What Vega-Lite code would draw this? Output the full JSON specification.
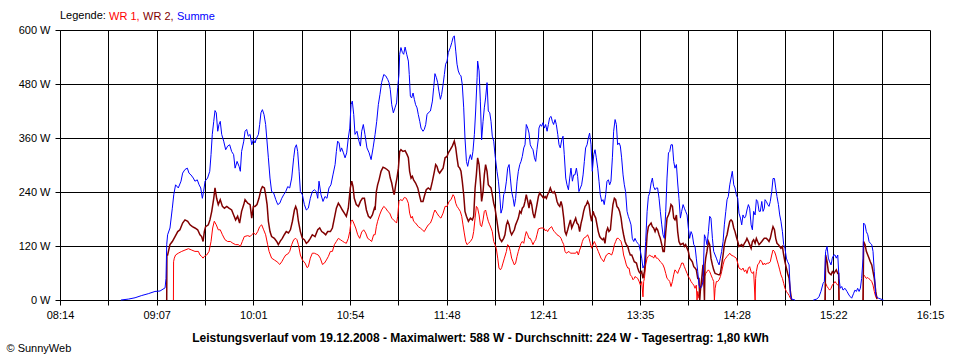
{
"$schema": "https://vega.github.io/schema/vega-lite/v6.json",
"width": 870, "height": 270,
"autosize": {"type": "none"},
"padding": {"left": 60, "top": 30, "right": 30, "bottom": 60},
"background": "white",
"config": {
 "font": "Liberation Sans",
 "view": {"stroke": null},
 "axis": {"gridColor": "#000", "gridOpacity": 1, "gridWidth": 1, "domainColor": "#000", "tickColor": "#000", "labelColor": "#000", "labelFontSize": 11, "tickSize": 5, "zindex": 1, "titleColor": "#000"}
},
"datasets": {
"wr1": [
{"t":556.7,"w":0},{"t":556.8,"w":85},{"t":557.2,"w":93},{"t":557.9,"w":100},{"t":559.4,"w":104},{"t":561.3,"w":108},{"t":563.1,"w":111},{"t":565.0,"w":114},{"t":566.8,"w":111},{"t":568.6,"w":108},{"t":570.5,"w":108},{"t":571.4,"w":100},{"t":572.3,"w":97},{"t":573.1,"w":93},{"t":573.8,"w":97},{"t":575.1,"w":100},{"t":576.4,"w":108},{"t":577.5,"w":130},{"t":578.4,"w":160},{"t":579.3,"w":175},{"t":580.4,"w":167},{"t":581.5,"w":156},{"t":582.6,"w":156},{"t":583.8,"w":145},{"t":585.2,"w":134},{"t":586.7,"w":130},{"t":588.2,"w":130},{"t":589.6,"w":126},{"t":591.1,"w":123},{"t":592.6,"w":123},{"t":593.7,"w":119},{"t":594.8,"w":130},{"t":595.9,"w":141},
{"t":597.8,"w":143},{"t":599.1,"w":141},{"t":600.0,"w":145},{"t":601.1,"w":149},{"t":602.2,"w":145},{"t":603.3,"w":152},{"t":604.4,"w":163},{"t":605.5,"w":167},{"t":606.6,"w":156},{"t":607.7,"w":145},{"t":608.8,"w":123},{"t":609.6,"w":108},{"t":611.0,"w":93},{"t":612.5,"w":89},{"t":614.0,"w":85},{"t":615.5,"w":79},{"t":616.6,"w":85},{"t":617.7,"w":93},{"t":618.8,"w":100},{"t":619.9,"w":102},{"t":621.0,"w":108},{"t":622.1,"w":123},{"t":623.2,"w":134},{"t":624.3,"w":137},{"t":625.0,"w":134},{"t":625.8,"w":123},{"t":626.9,"w":100},{"t":628.0,"w":89},{"t":629.5,"w":82},{"t":630.6,"w":72},{"t":631.3,"w":74},{"t":632.4,"w":93},{"t":633.5,"w":104},{"t":634.6,"w":104},{"t":635.7,"w":102},{"t":636.8,"w":100},{"t":637.9,"w":93},{"t":639.1,"w":79},{"t":640.2,"w":82},{"t":641.3,"w":89},{"t":642.4,"w":97},{"t":643.5,"w":108},{"t":644.6,"w":108},{"t":645.7,"w":123},{"t":646.8,"w":130},{"t":647.9,"w":137},{"t":649.0,"w":134},{"t":650.1,"w":131},{"t":651.2,"w":128},{"t":652.3,"w":126},{"t":653.4,"w":137},{"t":654.2,"w":152},{"t":654.9,"w":175},{"t":655.6,"w":178},{"t":656.4,"w":171},{"t":657.5,"w":160},{"t":658.6,"w":145},{"t":659.7,"w":137},{"t":660.8,"w":151},{"t":661.9,"w":156},{"t":663.0,"w":149},{"t":664.1,"w":137},{"t":665.2,"w":134},{"t":666.3,"w":130},{"t":667.4,"w":145},
{"t":668.2,"w":145},{"t":668.9,"w":163},{"t":669.6,"w":175},{"t":670.7,"w":189},{"t":671.8,"w":200},{"t":673.0,"w":208},{"t":674.1,"w":204},{"t":675.2,"w":197},{"t":676.3,"w":193},{"t":677.4,"w":182},{"t":678.3,"w":178},{"t":679.2,"w":175},{"t":680.1,"w":171},{"t":680.7,"w":186},{"t":681.4,"w":219},{"t":682.2,"w":223},{"t":683.3,"w":221},{"t":684.4,"w":228},{"t":685.5,"w":226},{"t":686.6,"w":215},{"t":687.3,"w":193},{"t":688.1,"w":182},{"t":688.8,"w":186},{"t":689.5,"w":175},{"t":690.6,"w":171},{"t":692.1,"w":163},{"t":693.2,"w":160},{"t":694.3,"w":156},{"t":695.4,"w":152},{"t":696.5,"w":160},{"t":697.6,"w":167},{"t":698.8,"w":171},{"t":699.9,"w":182},{"t":700.6,"w":193},{"t":701.3,"w":200},{"t":702.4,"w":193},{"t":703.5,"w":186},{"t":704.6,"w":182},{"t":705.8,"w":193},{"t":706.9,"w":208},{"t":708.0,"w":208},{"t":709.1,"w":219},{"t":710.2,"w":223},{"t":711.3,"w":234},{"t":712.0,"w":230},{"t":712.8,"w":215},{"t":713.5,"w":208},{"t":714.2,"w":204},{"t":715.3,"w":197},{"t":716.1,"w":186},{"t":716.8,"w":167},{"t":717.5,"w":149},{"t":718.3,"w":130},{"t":719.0,"w":123},{"t":719.8,"w":126},{"t":720.9,"w":130},{"t":722.0,"w":137},{"t":722.7,"w":152},{"t":723.5,"w":182},{"t":724.2,"w":208},{"t":724.9,"w":204},{"t":725.7,"w":189},{"t":726.4,"w":167},{"t":727.1,"w":163},{"t":727.9,"w":178},{"t":728.6,"w":197},{"t":729.3,"w":200},{"t":730.1,"w":186},{"t":730.8,"w":175},{"t":731.6,"w":167},{"t":732.3,"w":160},{"t":733.0,"w":152},{"t":733.8,"w":130},{"t":734.5,"w":123},{"t":735.2,"w":115},{"t":736.0,"w":93},{"t":736.7,"w":71},{"t":737.5,"w":67},{"t":738.2,"w":72},{"t":738.9,"w":82},{"t":739.7,"w":93},
{"t":740.8,"w":108},{"t":741.5,"w":123},{"t":742.3,"w":119},{"t":743.0,"w":108},{"t":743.7,"w":93},{"t":744.5,"w":85},{"t":745.2,"w":78},{"t":745.9,"w":82},{"t":746.7,"w":97},{"t":747.4,"w":108},{"t":748.2,"w":119},{"t":748.9,"w":126},{"t":749.6,"w":130},{"t":750.4,"w":126},{"t":751.1,"w":141},{"t":751.8,"w":152},{"t":752.6,"w":145},{"t":753.3,"w":137},{"t":754.0,"w":137},{"t":754.8,"w":130},{"t":755.5,"w":123},{"t":756.3,"w":130},{"t":757.0,"w":134},{"t":757.7,"w":145},{"t":758.5,"w":158},{"t":759.9,"w":160},{"t":761.4,"w":160},{"t":762.2,"w":154},{"t":762.9,"w":156},{"t":763.6,"w":152},{"t":764.4,"w":158},{"t":765.8,"w":163},{"t":766.6,"w":156},{"t":767.3,"w":152},{"t":768.0,"w":149},{"t":768.8,"w":145},{"t":770.3,"w":141},{"t":771.0,"w":137},{"t":771.7,"w":130},{"t":772.5,"w":123},{"t":773.2,"w":108},{"t":773.9,"w":104},{"t":775.4,"w":108},{"t":776.2,"w":104},{"t":777.6,"w":104},{"t":779.1,"w":104},{"t":779.8,"w":108},{"t":780.6,"w":100},{"t":781.3,"w":111},{"t":782.1,"w":119},{"t":782.8,"w":130},{"t":783.5,"w":137},{"t":785.0,"w":141},{"t":785.7,"w":145},{"t":786.5,"w":137},{"t":787.2,"w":126},{"t":787.9,"w":115},{"t":788.7,"w":123},{"t":789.4,"w":130},{"t":790.2,"w":123},{"t":790.9,"w":115},{"t":791.6,"w":108},{"t":792.4,"w":100},{"t":793.1,"w":93},{"t":793.9,"w":89},{"t":794.6,"w":85},{"t":795.3,"w":93},{"t":796.1,"w":100},{"t":797.5,"w":104},{"t":799.0,"w":100},{"t":799.7,"w":108},{"t":800.5,"w":123},{"t":801.2,"w":130},{"t":801.9,"w":137},{"t":802.7,"w":137},{"t":803.4,"w":134},{"t":804.2,"w":130},{"t":804.9,"w":119},{"t":805.6,"w":100},{"t":806.4,"w":89},{"t":807.1,"w":78},{"t":807.9,"w":71},{"t":808.6,"w":71},{"t":809.3,"w":56},{"t":810.1,"w":52},{"t":810.8,"w":45},{"t":811.5,"w":48},
{"t":811.9,"w":52},{"t":812.7,"w":50},{"t":813.4,"w":48},{"t":814.1,"w":42},{"t":814.9,"w":33},{"t":815.6,"w":41},{"t":816.3,"w":7},{"t":816.7,"w":41},{"t":817.1,"w":48},{"t":817.8,"w":78},{"t":818.6,"w":93},{"t":819.3,"w":97},{"t":820.0,"w":100},{"t":820.8,"w":97},{"t":821.5,"w":97},{"t":822.2,"w":93},{"t":823.0,"w":100},{"t":823.7,"w":93},{"t":824.4,"w":93},{"t":825.2,"w":89},{"t":825.9,"w":85},{"t":826.7,"w":82},{"t":827.4,"w":78},{"t":828.1,"w":71},{"t":828.9,"w":59},{"t":829.6,"w":48},{"t":830.4,"w":45},{"t":831.1,"w":41},{"t":831.8,"w":30},{"t":832.6,"w":41},{"t":833.3,"w":56},{"t":834.0,"w":67},{"t":834.8,"w":63},{"t":835.5,"w":59},{"t":836.2,"w":67},{"t":837.0,"w":74},{"t":837.7,"w":82},{"t":838.5,"w":82},{"t":839.2,"w":74},{"t":839.9,"w":67},{"t":840.7,"w":59},{"t":841.4,"w":52},{"t":842.1,"w":48},{"t":842.9,"w":41},{"t":843.6,"w":37},{"t":844.4,"w":33},{"t":845.1,"w":26},{"t":845.8,"w":33},{"t":846.2,"w":0},{"t":846.6,"w":19},{"t":847.3,"w":4},{"t":848.0,"w":26},{"t":848.8,"w":33},{"t":849.5,"w":48},{"t":850.3,"w":52},{"t":851.0,"w":59},{"t":851.7,"w":63},{"t":852.5,"w":67},{"t":853.2,"w":63},{"t":853.9,"w":56},{"t":854.7,"w":48},{"t":855.4,"w":41},{"t":855.8,"w":0},{"t":856.2,"w":26},{"t":856.9,"w":41},{"t":857.6,"w":41},{"t":858.4,"w":45},{"t":859.1,"w":52},{"t":859.8,"w":63},{"t":860.6,"w":78},{"t":861.3,"w":89},{"t":862.1,"w":93},{"t":862.8,"w":97},{"t":863.5,"w":100},{"t":864.3,"w":104},{"t":865.0,"w":100},{"t":866.5,"w":97},{"t":867.9,"w":93},{"t":868.7,"w":82},{"t":869.4,"w":71},{"t":870.9,"w":67},{"t":871.6,"w":71},{"t":872.4,"w":63},{"t":873.1,"w":67},{"t":873.8,"w":59},{"t":874.6,"w":71},{"t":875.3,"w":74},{"t":876.1,"w":63},{"t":876.8,"w":59},{"t":877.5,"w":63},{"t":878.3,"w":0},{"t":878.6,"w":48},{"t":879.0,"w":63},{"t":879.7,"w":78},{"t":880.5,"w":82},{"t":881.2,"w":89},{"t":882.0,"w":85},{"t":882.7,"w":78},{"t":883.4,"w":82},
{"t":883.8,"w":79},{"t":885.3,"w":82},{"t":886.0,"w":82},{"t":886.7,"w":85},{"t":887.5,"w":100},{"t":888.2,"w":111},{"t":889.0,"w":108},{"t":889.7,"w":100},{"t":890.4,"w":89},{"t":891.2,"w":78},{"t":891.9,"w":67},{"t":892.6,"w":56},{"t":893.4,"w":48},{"t":894.1,"w":37},{"t":894.8,"w":26},{"t":895.6,"w":19},{"t":896.3,"w":15},{"t":897.1,"w":10},{"t":897.8,"w":4},{"t":898.5,"w":0},{"t":907.0,"w":null},{"t":917.0,"w":0},{"t":917.3,"w":37},{"t":918.1,"w":30},{"t":918.8,"w":26},{"t":919.5,"w":22},{"t":920.3,"w":26},{"t":921.0,"w":33},{"t":921.8,"w":37},{"t":922.5,"w":41},{"t":923.2,"w":37},{"t":924.0,"w":33},{"t":924.5,"w":33},{"t":924.7,"w":0},{"t":931.0,"w":null},{"t":938.0,"w":0},{"t":938.3,"w":56},{"t":939.1,"w":52},{"t":939.8,"w":48},{"t":940.6,"w":50},{"t":941.3,"w":47},{"t":942.0,"w":45},{"t":942.8,"w":41},{"t":943.5,"w":33},{"t":944.2,"w":19},{"t":945.0,"w":7},{"t":945.7,"w":2}
],
"wr2": [
{"t":553.0,"w":0},{"t":553.1,"w":100},{"t":553.5,"w":100},{"t":554.8,"w":123},{"t":556.1,"w":130},{"t":557.6,"w":141},{"t":559.1,"w":152},{"t":560.3,"w":156},{"t":561.8,"w":171},{"t":563.1,"w":178},{"t":564.6,"w":175},{"t":565.9,"w":167},{"t":567.2,"w":163},{"t":568.6,"w":160},{"t":570.1,"w":156},{"t":571.4,"w":145},{"t":572.3,"w":141},{"t":573.1,"w":130},{"t":573.8,"w":152},{"t":574.5,"w":163},{"t":576.0,"w":167},{"t":576.9,"w":178},{"t":577.9,"w":197},{"t":579.0,"w":226},{"t":579.7,"w":249},{"t":580.6,"w":226},{"t":581.5,"w":212},{"t":582.6,"w":223},{"t":583.8,"w":208},{"t":584.9,"w":204},{"t":586.2,"w":208},{"t":587.4,"w":204},{"t":588.9,"w":200},{"t":590.0,"w":189},{"t":591.1,"w":178},{"t":592.2,"w":186},{"t":593.3,"w":171},{"t":594.4,"w":197},{"t":595.6,"w":212},
{"t":596.3,"w":223},{"t":597.8,"w":215},{"t":599.1,"w":212},{"t":600.0,"w":182},{"t":600.9,"w":208},{"t":601.8,"w":208},{"t":602.9,"w":212},{"t":604.0,"w":226},{"t":605.1,"w":245},{"t":605.9,"w":252},{"t":607.0,"w":249},{"t":607.7,"w":234},{"t":608.5,"w":212},{"t":609.2,"w":175},{"t":610.1,"w":152},{"t":611.0,"w":141},{"t":612.5,"w":137},{"t":613.8,"w":130},{"t":614.7,"w":123},{"t":615.8,"w":131},{"t":616.9,"w":137},{"t":618.0,"w":145},{"t":619.1,"w":152},{"t":620.3,"w":149},{"t":621.4,"w":156},{"t":622.5,"w":175},{"t":623.6,"w":200},{"t":624.3,"w":208},{"t":625.0,"w":200},{"t":625.8,"w":175},{"t":626.9,"w":152},{"t":628.0,"w":137},{"t":629.1,"w":134},{"t":630.2,"w":126},{"t":631.3,"w":130},{"t":632.4,"w":137},{"t":633.5,"w":145},{"t":635.0,"w":141},{"t":636.5,"w":156},{"t":637.6,"w":160},{"t":638.7,"w":152},{"t":639.8,"w":149},{"t":640.9,"w":145},{"t":642.0,"w":152},{"t":643.5,"w":152},{"t":644.6,"w":160},{"t":645.7,"w":182},{"t":646.8,"w":204},{"t":647.9,"w":215},{"t":649.0,"w":208},{"t":650.1,"w":200},{"t":651.2,"w":193},{"t":652.3,"w":186},{"t":653.4,"w":204},{"t":654.5,"w":249},{"t":655.3,"w":264},{"t":656.0,"w":252},{"t":656.7,"w":226},{"t":657.8,"w":212},{"t":659.0,"w":208},{"t":660.1,"w":219},{"t":661.2,"w":226},{"t":662.3,"w":226},{"t":663.4,"w":200},{"t":664.5,"w":186},{"t":665.6,"w":182},{"t":666.7,"w":189},{"t":667.8,"w":204},
{"t":668.2,"w":200},{"t":668.9,"w":241},{"t":669.6,"w":256},{"t":670.4,"w":267},{"t":671.5,"w":286},{"t":672.6,"w":295},{"t":673.7,"w":293},{"t":674.8,"w":290},{"t":675.9,"w":286},{"t":676.6,"w":271},{"t":677.4,"w":260},{"t":678.3,"w":241},{"t":678.8,"w":234},{"t":679.6,"w":256},{"t":680.3,"w":271},{"t":681.1,"w":293},{"t":681.8,"w":330},{"t":682.5,"w":334},{"t":683.6,"w":330},{"t":684.8,"w":332},{"t":685.9,"w":323},{"t":686.6,"w":316},{"t":687.3,"w":286},{"t":688.1,"w":271},{"t":688.8,"w":275},{"t":689.5,"w":267},{"t":690.6,"w":260},{"t":691.8,"w":249},{"t":692.9,"w":230},{"t":693.6,"w":219},{"t":694.7,"w":219},{"t":695.4,"w":230},{"t":696.5,"w":245},{"t":697.6,"w":249},{"t":698.8,"w":245},{"t":699.9,"w":264},{"t":701.0,"w":286},{"t":701.7,"w":301},{"t":702.4,"w":297},{"t":703.2,"w":286},{"t":703.9,"w":282},{"t":704.6,"w":286},{"t":705.8,"w":293},{"t":706.9,"w":316},{"t":708.0,"w":319},{"t":708.7,"w":327},{"t":709.8,"w":334},{"t":710.9,"w":342},{"t":712.0,"w":353},{"t":712.8,"w":338},{"t":713.5,"w":316},{"t":714.2,"w":297},{"t":715.0,"w":293},{"t":715.7,"w":286},{"t":716.4,"w":264},{"t":717.2,"w":234},{"t":717.9,"w":197},{"t":718.7,"w":186},{"t":719.8,"w":175},{"t":720.9,"w":182},{"t":722.0,"w":178},{"t":722.7,"w":186},{"t":723.5,"w":249},{"t":724.2,"w":278},{"t":724.9,"w":316},{"t":725.7,"w":301},{"t":726.4,"w":264},{"t":727.1,"w":219},{"t":727.9,"w":241},{"t":728.6,"w":278},{"t":729.3,"w":301},{"t":730.1,"w":286},{"t":730.8,"w":256},{"t":731.6,"w":252},{"t":732.3,"w":249},{"t":733.0,"w":234},{"t":733.8,"w":215},{"t":734.5,"w":204},{"t":735.6,"w":175},{"t":736.4,"w":152},{"t":737.1,"w":137},{"t":738.2,"w":130},{"t":739.3,"w":137},
{"t":740.0,"w":145},{"t":740.8,"w":167},{"t":741.5,"w":175},{"t":742.3,"w":167},{"t":743.0,"w":152},{"t":743.7,"w":145},{"t":745.2,"w":156},{"t":745.9,"w":167},{"t":746.7,"w":175},{"t":747.4,"w":182},{"t":748.2,"w":197},{"t":748.9,"w":193},{"t":749.6,"w":204},{"t":750.4,"w":208},{"t":751.1,"w":219},{"t":751.8,"w":234},{"t":752.6,"w":219},{"t":753.3,"w":204},{"t":754.0,"w":223},{"t":754.8,"w":212},{"t":755.5,"w":193},{"t":756.3,"w":182},{"t":757.0,"w":197},{"t":757.7,"w":212},{"t":758.5,"w":230},{"t":759.2,"w":238},{"t":759.9,"w":234},{"t":760.7,"w":230},{"t":761.4,"w":226},{"t":762.2,"w":230},{"t":762.9,"w":226},{"t":763.6,"w":234},{"t":764.4,"w":241},{"t":765.1,"w":249},{"t":765.8,"w":241},{"t":766.6,"w":238},{"t":767.3,"w":241},{"t":768.0,"w":234},{"t":768.8,"w":219},{"t":769.5,"w":212},{"t":770.3,"w":208},{"t":771.0,"w":219},{"t":771.7,"w":208},{"t":772.5,"w":182},{"t":773.2,"w":152},{"t":773.9,"w":145},{"t":774.7,"w":156},{"t":775.4,"w":167},{"t":776.2,"w":178},{"t":776.9,"w":160},{"t":777.6,"w":167},{"t":778.4,"w":175},{"t":779.1,"w":182},{"t":779.8,"w":171},{"t":780.6,"w":167},{"t":781.3,"w":152},{"t":782.1,"w":171},{"t":782.8,"w":182},{"t":783.5,"w":197},{"t":784.3,"w":208},{"t":785.0,"w":212},{"t":785.7,"w":219},{"t":786.5,"w":212},{"t":787.2,"w":189},{"t":787.9,"w":175},{"t":788.7,"w":197},{"t":789.4,"w":189},{"t":790.2,"w":182},{"t":790.9,"w":167},{"t":791.6,"w":152},{"t":792.4,"w":141},{"t":793.1,"w":137},{"t":793.9,"w":134},{"t":794.6,"w":137},{"t":795.3,"w":126},{"t":796.1,"w":152},{"t":796.8,"w":160},{"t":797.5,"w":152},{"t":798.3,"w":156},{"t":799.0,"w":186},{"t":799.7,"w":212},{"t":800.5,"w":226},{"t":801.2,"w":223},{"t":801.9,"w":208},{"t":802.7,"w":204},{"t":803.4,"w":197},{"t":804.2,"w":182},{"t":804.9,"w":160},{"t":805.6,"w":145},{"t":806.4,"w":130},{"t":807.1,"w":123},{"t":807.9,"w":119},{"t":808.6,"w":108},{"t":809.3,"w":100},{"t":810.1,"w":100},{"t":810.8,"w":93},{"t":811.5,"w":85},
{"t":812.7,"w":82},{"t":813.4,"w":71},{"t":814.1,"w":63},{"t":814.9,"w":59},{"t":815.6,"w":63},{"t":816.3,"w":48},{"t":817.1,"w":63},{"t":817.8,"w":93},{"t":818.6,"w":145},{"t":819.3,"w":163},{"t":820.0,"w":167},{"t":820.8,"w":171},{"t":821.5,"w":163},{"t":822.2,"w":160},{"t":823.0,"w":152},{"t":823.7,"w":160},{"t":824.4,"w":156},{"t":825.2,"w":145},{"t":825.9,"w":137},{"t":826.7,"w":123},{"t":827.4,"w":108},{"t":828.1,"w":108},{"t":828.9,"w":152},{"t":829.6,"w":182},{"t":830.4,"w":189},{"t":831.1,"w":197},{"t":831.8,"w":212},{"t":832.6,"w":208},{"t":833.3,"w":182},{"t":834.0,"w":178},{"t":834.8,"w":189},{"t":835.5,"w":152},{"t":836.2,"w":130},{"t":837.0,"w":123},{"t":838.5,"w":126},{"t":839.2,"w":119},{"t":839.9,"w":123},{"t":840.7,"w":115},{"t":841.4,"w":108},{"t":842.1,"w":93},{"t":842.9,"w":89},{"t":843.6,"w":85},{"t":844.4,"w":74},{"t":845.1,"w":71},{"t":845.8,"w":67},{"t":846.6,"w":48},{"t":847.3,"w":48},{"t":847.7,"w":0},{"t":848.0,"w":19},{"t":848.8,"w":48},{"t":849.5,"w":78},{"t":849.9,"w":48},{"t":850.3,"w":0},{"t":850.6,"w":78},{"t":851.0,"w":93},{"t":851.7,"w":108},{"t":852.5,"w":130},{"t":853.2,"w":123},{"t":853.9,"w":93},{"t":854.7,"w":78},{"t":855.4,"w":67},{"t":856.2,"w":59},{"t":857.6,"w":57},{"t":858.4,"w":56},{"t":859.1,"w":59},{"t":859.8,"w":78},{"t":860.6,"w":100},{"t":861.3,"w":123},{"t":862.1,"w":137},{"t":862.8,"w":145},{"t":863.5,"w":160},{"t":864.3,"w":175},{"t":865.0,"w":178},{"t":865.7,"w":175},{"t":866.5,"w":160},{"t":867.2,"w":152},{"t":867.9,"w":141},{"t":868.7,"w":130},{"t":869.4,"w":119},{"t":870.9,"w":123},{"t":871.6,"w":119},{"t":872.4,"w":126},{"t":873.1,"w":130},{"t":873.8,"w":137},{"t":874.6,"w":130},{"t":875.3,"w":123},{"t":876.1,"w":115},{"t":876.8,"w":130},{"t":877.5,"w":134},{"t":878.3,"w":126},{"t":879.0,"w":137},{"t":879.7,"w":130},{"t":880.5,"w":123},{"t":881.2,"w":126},{"t":882.0,"w":130},{"t":882.7,"w":134},{"t":883.4,"w":137},
{"t":884.5,"w":137},{"t":885.3,"w":134},{"t":886.0,"w":130},{"t":886.7,"w":137},{"t":887.5,"w":152},{"t":888.2,"w":163},{"t":889.0,"w":156},{"t":889.7,"w":137},{"t":890.4,"w":126},{"t":891.2,"w":123},{"t":891.9,"w":119},{"t":892.6,"w":115},{"t":893.4,"w":119},{"t":894.1,"w":100},{"t":894.8,"w":85},{"t":895.6,"w":71},{"t":896.3,"w":59},{"t":897.1,"w":48},{"t":897.8,"w":19},{"t":898.5,"w":0},{"t":907.0,"w":null},{"t":917.0,"w":0},{"t":917.3,"w":100},{"t":918.1,"w":85},{"t":918.8,"w":63},{"t":919.5,"w":59},{"t":920.3,"w":56},{"t":921.0,"w":63},{"t":921.8,"w":59},{"t":922.5,"w":63},{"t":923.2,"w":67},{"t":924.0,"w":59},{"t":924.5,"w":59},{"t":924.7,"w":0},{"t":931.0,"w":null},{"t":938.0,"w":0},{"t":938.3,"w":130},{"t":939.1,"w":123},{"t":939.8,"w":108},{"t":940.6,"w":100},{"t":941.3,"w":93},{"t":942.0,"w":85},{"t":942.8,"w":78},{"t":943.5,"w":63},{"t":944.2,"w":48},{"t":945.0,"w":19},{"t":945.7,"w":2}
],
"sum": [
{"t":527.7,"w":0},{"t":531.8,"w":2},{"t":535.5,"w":5},{"t":539.2,"w":10},{"t":542.8,"w":14},{"t":546.5,"w":19},{"t":549.3,"w":20},{"t":552.1,"w":27},{"t":552.6,"w":48},{"t":553.0,"w":123},{"t":553.5,"w":145},{"t":554.8,"w":160},{"t":556.1,"w":204},{"t":556.9,"w":234},{"t":557.9,"w":256},{"t":559.4,"w":249},{"t":560.9,"w":264},{"t":561.8,"w":282},{"t":563.1,"w":290},{"t":564.4,"w":293},{"t":565.3,"w":282},{"t":566.4,"w":278},{"t":567.7,"w":271},{"t":568.6,"w":264},{"t":569.9,"w":267},{"t":570.9,"w":256},{"t":571.8,"w":249},{"t":572.7,"w":226},{"t":573.4,"w":241},{"t":574.2,"w":264},{"t":575.6,"w":271},{"t":576.8,"w":286},{"t":577.5,"w":323},{"t":578.2,"w":368},{"t":579.0,"w":397},{"t":579.7,"w":421},{"t":580.4,"w":416},{"t":581.2,"w":375},{"t":581.9,"w":390},{"t":582.6,"w":397},{"t":583.4,"w":368},{"t":584.5,"w":353},{"t":585.6,"w":334},{"t":586.7,"w":342},{"t":587.8,"w":345},{"t":588.9,"w":330},{"t":590.0,"w":323},{"t":590.8,"w":293},{"t":591.9,"w":308},{"t":593.0,"w":297},{"t":593.7,"w":286},{"t":594.4,"w":330},{"t":595.6,"w":353},
{"t":596.3,"w":375},{"t":597.2,"w":379},{"t":598.1,"w":364},{"t":599.1,"w":368},{"t":600.0,"w":345},{"t":600.9,"w":356},{"t":601.8,"w":349},{"t":602.7,"w":360},{"t":603.7,"w":368},{"t":604.4,"w":390},{"t":605.1,"w":416},{"t":605.9,"w":423},{"t":606.8,"w":412},{"t":607.7,"w":390},{"t":608.3,"w":360},{"t":609.2,"w":316},{"t":610.1,"w":271},{"t":611.0,"w":241},{"t":612.1,"w":238},{"t":613.3,"w":223},{"t":614.4,"w":212},{"t":615.5,"w":215},{"t":616.6,"w":226},{"t":617.7,"w":234},{"t":618.8,"w":241},{"t":619.9,"w":252},{"t":621.0,"w":249},{"t":622.1,"w":271},{"t":623.2,"w":316},{"t":623.9,"w":338},{"t":624.7,"w":345},{"t":625.4,"w":330},{"t":626.2,"w":286},{"t":626.9,"w":241},{"t":628.0,"w":234},{"t":629.1,"w":212},{"t":630.2,"w":200},{"t":631.3,"w":204},{"t":632.4,"w":226},{"t":633.5,"w":241},{"t":634.6,"w":245},{"t":635.7,"w":241},{"t":636.5,"w":226},{"t":637.2,"w":264},{"t":638.3,"w":234},{"t":639.4,"w":219},{"t":640.5,"w":230},{"t":641.6,"w":226},{"t":642.7,"w":249},{"t":643.8,"w":256},{"t":644.9,"w":278},{"t":646.1,"w":301},{"t":646.8,"w":330},{"t":647.5,"w":353},{"t":648.3,"w":349},{"t":649.0,"w":330},{"t":649.7,"w":338},{"t":650.7,"w":327},{"t":651.6,"w":316},{"t":652.5,"w":327},{"t":653.4,"w":360},{"t":654.2,"w":382},{"t":654.9,"w":434},{"t":655.6,"w":442},{"t":656.4,"w":412},{"t":657.1,"w":368},{"t":658.2,"w":375},{"t":659.3,"w":353},{"t":660.1,"w":342},{"t":660.8,"w":375},{"t":661.7,"w":390},{"t":662.6,"w":368},{"t":663.7,"w":338},{"t":664.9,"w":327},{"t":666.0,"w":312},{"t":667.1,"w":338},
{"t":668.2,"w":368},{"t":669.1,"w":397},{"t":670.0,"w":434},{"t":670.9,"w":457},{"t":671.8,"w":483},{"t":673.0,"w":501},{"t":674.1,"w":498},{"t":675.2,"w":490},{"t":675.9,"w":483},{"t":676.6,"w":468},{"t":677.4,"w":434},{"t":678.3,"w":416},{"t":679.2,"w":427},{"t":680.1,"w":438},{"t":680.7,"w":472},{"t":681.4,"w":501},{"t":681.8,"w":546},{"t":682.5,"w":561},{"t":683.3,"w":550},{"t":684.0,"w":546},{"t":684.8,"w":562},{"t":685.7,"w":546},{"t":686.6,"w":531},{"t":687.1,"w":501},{"t":687.7,"w":453},{"t":688.4,"w":449},{"t":689.2,"w":460},{"t":689.9,"w":446},{"t":690.6,"w":434},{"t":691.4,"w":427},{"t":692.1,"w":412},{"t":692.9,"w":397},{"t":693.6,"w":382},{"t":694.7,"w":375},{"t":695.4,"w":379},{"t":696.2,"w":390},{"t":696.9,"w":412},{"t":697.6,"w":416},{"t":698.8,"w":420},{"t":699.9,"w":442},{"t":700.6,"w":472},{"t":701.3,"w":503},{"t":702.1,"w":494},{"t":702.8,"w":483},{"t":703.5,"w":464},{"t":704.3,"w":446},{"t":705.0,"w":457},{"t":705.8,"w":479},{"t":706.5,"w":501},{"t":707.2,"w":524},{"t":708.0,"w":531},{"t":708.7,"w":550},{"t":709.8,"w":561},{"t":710.6,"w":572},{"t":711.3,"w":583},{"t":712.0,"w":587},{"t":712.8,"w":553},{"t":713.5,"w":524},{"t":714.2,"w":509},{"t":715.0,"w":501},{"t":715.7,"w":498},{"t":716.4,"w":479},{"t":717.2,"w":427},{"t":717.9,"w":360},{"t":718.7,"w":308},{"t":719.4,"w":297},{"t":720.1,"w":312},{"t":720.9,"w":323},{"t":721.6,"w":312},{"t":722.3,"w":330},{"t":723.1,"w":368},{"t":723.8,"w":420},{"t":724.6,"w":494},{"t":724.9,"w":531},{"t":725.7,"w":509},{"t":726.4,"w":442},{"t":727.1,"w":356},{"t":727.9,"w":397},{"t":728.6,"w":427},{"t":729.3,"w":449},{"t":730.1,"w":483},{"t":730.8,"w":420},{"t":731.6,"w":416},{"t":732.3,"w":397},{"t":733.0,"w":364},{"t":733.8,"w":353},{"t":734.5,"w":323},{"t":735.6,"w":286},{"t":736.4,"w":264},{"t":737.1,"w":234},{"t":737.8,"w":193},{"t":738.6,"w":204},{"t":739.3,"w":234},
{"t":740.0,"w":241},{"t":740.8,"w":264},{"t":741.5,"w":293},{"t":742.3,"w":301},{"t":743.0,"w":271},{"t":743.7,"w":241},{"t":744.5,"w":226},{"t":745.2,"w":208},{"t":745.9,"w":226},{"t":746.7,"w":264},{"t":747.4,"w":286},{"t":748.2,"w":301},{"t":748.9,"w":308},{"t":749.6,"w":319},{"t":750.4,"w":338},{"t":751.1,"w":345},{"t":751.8,"w":390},{"t":752.6,"w":382},{"t":753.3,"w":371},{"t":754.0,"w":345},{"t":754.8,"w":338},{"t":755.5,"w":334},{"t":756.3,"w":316},{"t":757.0,"w":308},{"t":757.7,"w":334},{"t":758.5,"w":360},{"t":758.8,"w":382},{"t":759.6,"w":390},{"t":760.3,"w":386},{"t":761.0,"w":394},{"t":761.8,"w":382},{"t":762.5,"w":390},{"t":763.3,"w":375},{"t":764.0,"w":390},{"t":764.7,"w":405},{"t":765.5,"w":408},{"t":766.2,"w":397},{"t":766.9,"w":390},{"t":767.7,"w":401},{"t":768.4,"w":390},{"t":769.2,"w":368},{"t":769.9,"w":345},{"t":770.6,"w":338},{"t":771.4,"w":356},{"t":772.1,"w":364},{"t":772.8,"w":323},{"t":773.6,"w":271},{"t":774.3,"w":256},{"t":775.1,"w":245},{"t":775.8,"w":271},{"t":776.5,"w":293},{"t":777.3,"w":264},{"t":778.0,"w":278},{"t":778.7,"w":278},{"t":779.5,"w":293},{"t":780.2,"w":275},{"t":780.9,"w":241},{"t":781.7,"w":249},{"t":782.4,"w":256},{"t":783.2,"w":278},{"t":783.9,"w":308},{"t":784.6,"w":338},{"t":785.4,"w":345},{"t":786.1,"w":360},{"t":786.8,"w":371},{"t":787.6,"w":345},{"t":788.3,"w":286},{"t":789.1,"w":323},{"t":789.8,"w":334},{"t":790.5,"w":316},{"t":791.3,"w":293},{"t":792.0,"w":264},{"t":792.7,"w":234},{"t":793.5,"w":219},{"t":794.2,"w":223},{"t":794.9,"w":212},{"t":795.7,"w":234},{"t":796.4,"w":264},{"t":797.2,"w":267},{"t":797.9,"w":256},{"t":798.6,"w":264},{"t":799.4,"w":316},{"t":800.1,"w":375},{"t":800.9,"w":401},{"t":801.6,"w":390},{"t":802.3,"w":345},{"t":803.1,"w":349},{"t":803.8,"w":342},{"t":804.5,"w":316},{"t":805.3,"w":278},{"t":806.0,"w":256},{"t":806.7,"w":241},{"t":807.5,"w":197},{"t":808.2,"w":186},{"t":808.9,"w":178},{"t":809.7,"w":167},{"t":810.4,"w":137},{"t":811.2,"w":130},
{"t":811.9,"w":137},{"t":812.7,"w":130},{"t":813.4,"w":126},{"t":814.1,"w":123},{"t":814.9,"w":108},{"t":815.6,"w":93},{"t":816.3,"w":71},{"t":817.1,"w":78},{"t":817.8,"w":130},{"t":818.6,"w":197},{"t":819.3,"w":230},{"t":820.0,"w":238},{"t":820.8,"w":260},{"t":821.5,"w":271},{"t":822.2,"w":252},{"t":823.0,"w":245},{"t":823.7,"w":249},{"t":824.4,"w":249},{"t":825.2,"w":226},{"t":825.9,"w":197},{"t":826.7,"w":167},{"t":827.4,"w":145},{"t":828.1,"w":137},{"t":828.9,"w":197},{"t":829.6,"w":271},{"t":830.4,"w":327},{"t":831.1,"w":330},{"t":831.8,"w":345},{"t":832.6,"w":345},{"t":833.3,"w":308},{"t":834.0,"w":293},{"t":834.8,"w":301},{"t":835.5,"w":260},{"t":836.2,"w":226},{"t":837.0,"w":182},{"t":837.7,"w":197},{"t":838.5,"w":212},{"t":839.2,"w":204},{"t":839.9,"w":197},{"t":840.7,"w":189},{"t":841.4,"w":160},{"t":842.1,"w":137},{"t":842.9,"w":152},{"t":843.6,"w":145},{"t":844.4,"w":123},{"t":845.1,"w":119},{"t":845.8,"w":93},{"t":846.6,"w":63},{"t":847.3,"w":33},{"t":848.0,"w":26},{"t":848.8,"w":30},{"t":849.5,"w":41},{"t":850.3,"w":145},{"t":851.0,"w":137},{"t":851.7,"w":123},{"t":852.5,"w":152},{"t":853.2,"w":186},{"t":853.9,"w":182},{"t":854.7,"w":137},{"t":855.4,"w":108},{"t":856.2,"w":100},{"t":856.9,"w":93},{"t":857.6,"w":85},{"t":858.4,"w":78},{"t":859.1,"w":93},{"t":859.8,"w":108},{"t":860.6,"w":130},{"t":861.3,"w":167},{"t":862.1,"w":197},{"t":862.8,"w":223},{"t":863.5,"w":230},{"t":864.3,"w":256},{"t":865.0,"w":271},{"t":865.7,"w":286},{"t":866.5,"w":256},{"t":867.2,"w":249},{"t":867.9,"w":234},{"t":868.7,"w":226},{"t":869.4,"w":193},{"t":870.2,"w":182},{"t":870.9,"w":167},{"t":871.6,"w":189},{"t":872.4,"w":182},{"t":873.1,"w":186},{"t":873.8,"w":200},{"t":874.6,"w":212},{"t":875.3,"w":204},{"t":876.1,"w":167},{"t":876.8,"w":156},{"t":877.5,"w":197},{"t":878.3,"w":189},{"t":879.0,"w":223},{"t":879.7,"w":219},{"t":880.5,"w":197},{"t":881.2,"w":197},{"t":882.0,"w":219},{"t":882.7,"w":197},{"t":883.4,"w":204},
{"t":883.8,"w":223},{"t":884.5,"w":219},{"t":885.3,"w":212},{"t":886.0,"w":208},{"t":886.7,"w":219},{"t":887.5,"w":241},{"t":888.2,"w":270},{"t":889.0,"w":270},{"t":889.7,"w":249},{"t":890.4,"w":230},{"t":891.2,"w":212},{"t":891.9,"w":189},{"t":892.6,"w":175},{"t":893.4,"w":152},{"t":894.1,"w":123},{"t":894.8,"w":115},{"t":895.6,"w":93},{"t":896.3,"w":85},{"t":897.1,"w":78},{"t":897.8,"w":11},{"t":898.5,"w":2},{"t":900.4,"w":0},{"t":905.0,"w":null},{"t":910.5,"w":0},{"t":912.4,"w":2},{"t":913.6,"w":7},{"t":914.7,"w":19},{"t":915.9,"w":37},{"t":916.6,"w":41},{"t":917.3,"w":108},{"t":918.1,"w":119},{"t":918.8,"w":93},{"t":919.5,"w":85},{"t":920.3,"w":78},{"t":921.0,"w":93},{"t":921.8,"w":100},{"t":922.5,"w":100},{"t":923.2,"w":93},{"t":924.0,"w":100},{"t":924.7,"w":48},{"t":925.4,"w":26},{"t":926.2,"w":30},{"t":926.9,"w":22},{"t":928.0,"w":26},{"t":929.1,"w":19},{"t":930.2,"w":11},{"t":931.0,"w":7},{"t":931.7,"w":4},{"t":932.8,"w":15},{"t":933.5,"w":22},{"t":934.3,"w":19},{"t":935.0,"w":26},{"t":935.8,"w":19},{"t":936.5,"w":26},{"t":937.2,"w":48},{"t":938.0,"w":93},{"t":938.3,"w":171},{"t":939.1,"w":167},{"t":939.8,"w":152},{"t":940.6,"w":145},{"t":941.3,"w":130},{"t":942.0,"w":126},{"t":942.8,"w":123},{"t":943.5,"w":108},{"t":944.2,"w":63},{"t":945.0,"w":11},{"t":945.7,"w":7},{"t":946.4,"w":4},{"t":947.9,"w":2},{"t":949.2,"w":0}
]
},
"layer": [
{"data": {"name": "wr1"},
 "mark": {"type": "line", "strokeWidth": 1},
 "encoding": {
  "x": {"field": "t", "type": "quantitative", "scale": {"domain": [494, 975], "nice": false, "zero": false},
   "axis": {"values": [494, 520.722, 547.444, 574.167, 600.889, 627.611, 654.333, 681.056, 707.778, 734.5, 761.222, 787.944, 814.667, 841.389, 868.111, 894.833, 921.556, 948.278, 975],
    "labelExpr": "round((datum.value - 494) / 26.7222) % 2 == 0 ? ((floor(round(datum.value) / 60) < 10 ? '0' : '') + floor(round(datum.value) / 60) + ':' + (round(datum.value) % 60 < 10 ? '0' : '') + (round(datum.value) % 60)) : ''",
    "labelFlush": false, "labelOverlap": false, "labelPadding": 4,
    "title": "Leistungsverlauf vom 19.12.2008 - Maximalwert: 588 W - Durchschnitt: 224 W - Tagesertrag: 1,80 kWh",
    "titleX": 420, "titleY": 37, "titleAlign": "center", "titleBaseline": "middle", "titleFontWeight": "bold", "titleFontSize": 12}},
  "y": {"field": "w", "type": "quantitative", "scale": {"domain": [0, 600], "nice": false},
   "axis": {"values": [0, 120, 240, 360, 480, 600], "labelExpr": "datum.value + ' W'", "labelPadding": 5,
    "title": "© SunnyWeb", "titleX": -54, "titleY": 318, "titleAngle": 0, "titleAlign": "left", "titleBaseline": "middle", "titleFontWeight": "normal", "titleFontSize": 11}},
  "color": {"datum": "WR 1", "scale": {"domain": ["WR 1", "WR 2", "Summe"], "range": ["#ff0000", "#800000", "#0000ff"]},
   "legend": {"orient": "none", "legendX": 0, "legendY": -19, "direction": "horizontal", "title": "Legende:", "titleOrient": "left", "titleFontWeight": "normal", "titleFontSize": 11, "titleColor": "#000", "titlePadding": 3, "labelFontSize": 11, "symbolSize": 0, "symbolStrokeWidth": 0, "symbolOpacity": 0, "labelOffset": -11, "columnPadding": 3,
    "labelExpr": "datum.label == 'Summe' ? datum.label : datum.label + ','",
    "encode": {"labels": {"update": {"fill": {"scale": "color", "field": "value"}}}}}}
 }},
{"data": {"name": "wr2"},
 "mark": {"type": "line", "strokeWidth": 1.5},
 "encoding": {
  "x": {"field": "t", "type": "quantitative", "scale": {"domain": [494, 975], "nice": false, "zero": false}},
  "y": {"field": "w", "type": "quantitative", "scale": {"domain": [0, 600], "nice": false}},
  "color": {"datum": "WR 2"}
 }},
{"data": {"name": "sum"},
 "mark": {"type": "line", "strokeWidth": 1},
 "encoding": {
  "x": {"field": "t", "type": "quantitative", "scale": {"domain": [494, 975], "nice": false, "zero": false}},
  "y": {"field": "w", "type": "quantitative", "scale": {"domain": [0, 600], "nice": false}},
  "color": {"datum": "Summe"}
 }},
{"mark": {"type": "rule", "color": "#a0a0a0", "strokeWidth": 1},
 "encoding": {"y": {"datum": 224, "type": "quantitative"}}}
]
}
